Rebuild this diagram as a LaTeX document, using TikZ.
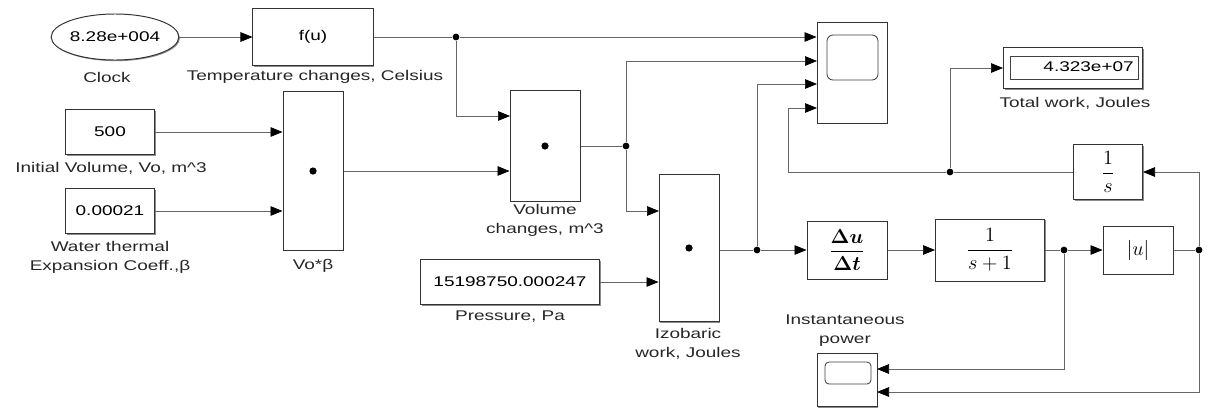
\documentclass[tikz,border=0pt]{standalone}
\usepackage{amsmath}
\usepackage[no-math]{fontspec}
\setmainfont{Liberation Sans}[FakeStretch=1.35]
\usetikzlibrary{positioning,arrows.meta,shapes.geometric,shadows}

\begin{document}
\begin{tikzpicture}[x=0.025cm, y=-0.025cm,
    block/.style={draw=black!80, fill=white, line width=0.7pt, inner sep=0pt, font=\fontsize{10}{12}\selectfont,
        drop shadow={shadow xshift=0.8pt, shadow yshift=-0.8pt, fill=black!45, opacity=1}},
    lbl/.style={align=center, text=black!85, font=\fontsize{10}{13.5}\selectfont},
    junc/.style={circle, fill=black, inner sep=0pt, minimum size=0.17cm},
    wire/.style={draw=black!60, line width=0.5pt},
    sig/.style={wire, -{Triangle[length=0.3cm, width=0.24cm, black]}}
]
    \useasboundingbox (0,0) rectangle (1207,409);

    \node[block, ellipse, minimum width=3.05cm, minimum height=1.15cm] (clock) at (115,37) {8.28e+004};
    \node[block, minimum width=3cm, minimum height=1.425cm] (fu) at (313,37) {f(u)};
    \node[block, minimum width=2.225cm, minimum height=1.125cm] (c500) at (110,132) {500};
    \node[block, minimum width=2.225cm, minimum height=1.125cm] (cbeta) at (110,211) {0.00021};
    \node[block, minimum width=1.5cm, minimum height=3.95cm] (prodA) at (313,171) {};
    \node[block, minimum width=1.75cm, minimum height=2.75cm] (prodB) at (545,146) {};
    \node[block, minimum width=4.475cm, minimum height=1.125cm] (pres) at (510,282) {15198750.000247};
    \node[block, minimum width=1.5cm, minimum height=3.675cm] (prodC) at (689,248) {};
    \node[block, minimum width=1.75cm, minimum height=2.5cm] (scope) at (852,73) {};
    \node[block, minimum width=3.475cm, minimum height=1.025cm] (display) at (1073,68) {};
    \node[block, minimum width=1.725cm, minimum height=1.375cm] (integ) at (1108,172) {\Large$\displaystyle\frac{1}{s}$};
    \node[block, minimum width=2cm, minimum height=1.45cm] (deriv) at (847,250) {\Large$\displaystyle\frac{\boldsymbol{\Delta u}}{\boldsymbol{\Delta t}}$};
    \node[block, minimum width=2.725cm, minimum height=1.55cm] (tf) at (990,250) {\Large$\displaystyle\frac{1}{s+1}$};
    \node[block, minimum width=1.75cm, minimum height=1.2cm] (abs) at (1138,250) {\Large$|u|$};
    \node[block, minimum width=1.5cm, minimum height=1.325cm] (pscope) at (847,380) {};

    \fill (prodA) circle[radius=0.09cm];
    \fill (prodB) circle[radius=0.09cm];
    \fill (prodC) circle[radius=0.09cm];
    \draw[black!75, line width=0.6pt, rounded corners=0.15cm] (827,35) rectangle (878,80);
    \draw[black!75, line width=0.6pt, rounded corners=0.1cm] (825,362) rectangle (871,384);
    \draw[black!75, line width=0.5pt] (1010,56) rectangle (1138,79);
    \node[anchor=east, font=\fontsize{10}{12}\selectfont, inner sep=0pt] (workval) at (1134,67) {4.323e+07};

    \node[lbl] (clocklbl) at (107,77) {Clock};
    \node[lbl] (fulbl) at (315,77) {Temperature changes, Celsius};
    \node[lbl] (c500lbl) at (111,168) {Initial Volume, Vo, m\^{}3};
    \node[lbl] (cbetalbl) at (110,257) {Water thermal\\Expansion Coeff.,β};
    \node[lbl] (prodAlbl) at (313,266) {Vo*β};
    \node[lbl] (prodBlbl) at (545,220) {Volume\\changes, m\^{}3};
    \node[lbl] (preslbl) at (510,317) {Pressure, Pa};
    \node[lbl] (prodClbl) at (688,344) {Izobaric\\work, Joules};
    \node[lbl] (displaylbl) at (1075,103) {Total work, Joules};
    \node[lbl] (pscopelbl) at (845,331) {Instantaneous\\power};

    \node[junc] (T) at (456,37) {};
    \node[junc] (V) at (626,146) {};
    \node[junc] (W) at (757,250) {};
    \node[junc] (X) at (1064,250) {};
    \node[junc] (Y) at (1199,250) {};
    \node[junc] (Z) at (950,172) {};
    \coordinate (b1) at (510,116);
    \coordinate (c1) at (659,211);
    \coordinate (s2) at (817,61);
    \coordinate (s3) at (817,84);
    \coordinate (s4) at (817,108);
    \coordinate (bend4) at (788,172);
    \coordinate (p1) at (877,369);
    \coordinate (p2) at (877,392);

    \draw[sig] (clock) -- (fu);
    \draw[wire] (fu) -- (T);
    \draw[sig] (T) -- (T -| scope.west);
    \draw[sig] (T) |- (b1);
    \draw[sig] (c500) -- (c500 -| prodA.west);
    \draw[sig] (cbeta) -- (cbeta -| prodA.west);
    \draw[sig] (prodA) -- (prodA -| prodB.west);
    \draw[wire] (prodB) -- (V);
    \draw[sig] (V) |- (s2);
    \draw[sig] (V) |- (c1);
    \draw[sig] (pres) -- (pres -| prodC.west);
    \draw[wire] (prodC.east |- W) -- (W);
    \draw[sig] (W) |- (s3);
    \draw[sig] (W) -- (deriv);
    \draw[sig] (deriv) -- (tf);
    \draw[wire] (tf) -- (X);
    \draw[sig] (X) -- (abs);
    \draw[wire] (abs) -- (Y);
    \draw[sig] (Y) |- (integ);
    \draw[wire] (integ) -- (Z);
    \draw[sig] (Z) -- (bend4) |- (s4);
    \draw[sig] (Z) |- (display);
    \draw[sig] (X) |- (p1);
    \draw[sig] (Y) |- (p2);
\end{tikzpicture}
\end{document}
